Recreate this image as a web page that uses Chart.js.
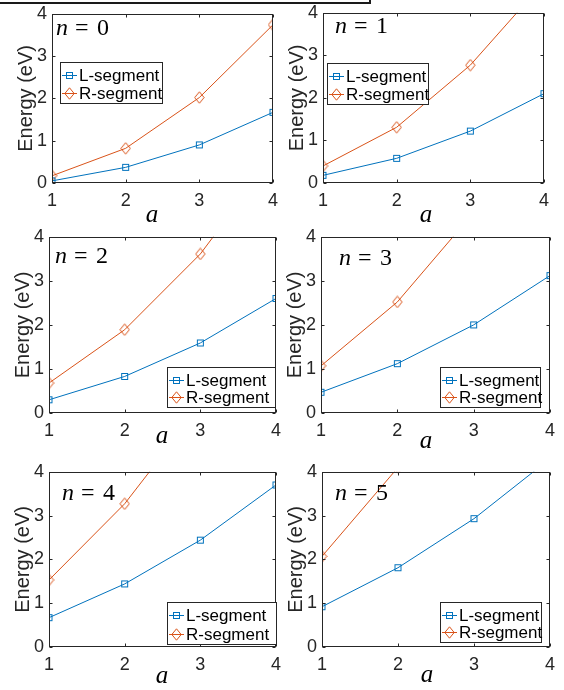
<!DOCTYPE html>
<html><head><meta charset="utf-8">
<script src="https://cdn.jsdelivr.net/npm/chart.js@4/dist/chart.umd.min.js"></script>
<style>
html,body{margin:0;padding:0;background:#fff;}
body{width:564px;height:690px;position:relative;overflow:hidden;}
canvas{position:absolute;}
#frag{position:absolute;left:-3px;top:-3px;width:372px;height:5px;border-right:2px solid #1a1a1a;border-bottom:2px solid #1a1a1a;}
</style></head><body>
<div id="frag"></div>
<script>
// ---- data ----
const aValues = [1, 2, 3, 4];
const xTickLabels = ['1', '2', '3', '4'];
const yTickValues = [0, 1, 2, 3, 4];
const yTickLabels = ['0', '1', '2', '3', '4'];
const nValues = ['0', '1', '2', '3', '4', '5'];
const seriesNames = ['L-segment', 'R-segment'];
const yTitle = 'Energy (eV)';
const xTitle = 'a';

const lSeg0 = [0.05, 0.37, 0.90, 1.67];
const rSeg0 = [0.17, 0.82, 2.02, 3.74];
const lSeg1 = [0.18, 0.58, 1.22, 2.10];
const rSeg1 = [0.40, 1.31, 2.77, 4.72];
const lSeg2 = [0.30, 0.83, 1.59, 2.60];
const rSeg2 = [0.68, 1.89, 3.61, 5.90];
const lSeg3 = [0.47, 1.12, 2.00, 3.12];
const rSeg3 = [1.07, 2.52, 4.55, 6.80];
const lSeg4 = [0.67, 1.44, 2.44, 3.70];
const rSeg4 = [1.53, 3.27, 5.50, 7.90];
const lSeg5 = [0.92, 1.81, 2.93, 4.30];
const rSeg5 = [2.07, 4.10, 6.40, 8.90];

const lSegs = [lSeg0, lSeg1, lSeg2, lSeg3, lSeg4, lSeg5];
const rSegs = [rSeg0, rSeg1, rSeg2, rSeg3, rSeg4, rSeg5];

// ---- layout (page coordinates) ----
const panels = [
  {L:52,  T:12,  R:273, B:183, leg:[60, 62, 103, 42],  nPos:[56, 35],   aPos:[152, 222]},
  {L:323, T:11,  R:544, B:183, leg:[327, 63, 102, 42], nPos:[335, 33],  aPos:[426, 222]},
  {L:49,  T:235, R:276, B:413, leg:[167, 367, 109, 41], nPos:[55, 263], aPos:[162, 443]},
  {L:321, T:235, R:550, B:413, leg:[440, 367, 101, 41], nPos:[339, 265], aPos:[426, 448]},
  {L:49,  T:470, R:276, B:647, leg:[167, 602, 110, 43], nPos:[62, 500], aPos:[162, 683]},
  {L:322, T:470, R:550, B:647, leg:[440, 602, 102, 41], nPos:[335, 500], aPos:[427, 682]}
];

const BLUE = '#0072BD', ORANGE = '#D95319', AXC = '#262626';

function makeSquare(color) {
  const c = document.createElement('canvas'); c.width = 9; c.height = 9;
  const g = c.getContext('2d'); g.strokeStyle = color; g.lineWidth = 1;
  g.strokeRect(1.5, 1.5, 6, 6); return c;
}
function makeDiamond(color) {
  const c = document.createElement('canvas'); c.width = 11; c.height = 13;
  const g = c.getContext('2d'); g.strokeStyle = color; g.lineWidth = 1;
  g.beginPath(); g.moveTo(5.5, 0.8); g.lineTo(10.2, 6.5); g.lineTo(5.5, 12.2); g.lineTo(0.8, 6.5); g.closePath(); g.stroke();
  return c;
}
const sqMark = makeSquare(BLUE), diMark = makeDiamond(ORANGE);

function makePlugin(p, i, ox, oy) {
  return {
    id: 'matlab' + i,
    afterDatasetsDraw(chart) {
      const {ctx, chartArea: ca, scales: {x, y}} = chart;
      ctx.save();
      // box
      ctx.strokeStyle = AXC; ctx.lineWidth = 1;
      const l = Math.round(ca.left) + 0.5, t = Math.round(ca.top) + 0.5,
            r = Math.round(ca.right) - 0.5, b = Math.round(ca.bottom) - 0.5;
      ctx.strokeRect(l, t, r - l, b - t);
      // inward ticks
      ctx.beginPath();
      aValues.forEach(v => {
        const px = Math.round(x.getPixelForValue(v)) + 0.5;
        ctx.moveTo(px, b); ctx.lineTo(px, b - 3);
        ctx.moveTo(px, t); ctx.lineTo(px, t + 3);
      });
      yTickValues.forEach(v => {
        const py = Math.round(y.getPixelForValue(v)) + 0.5;
        ctx.moveTo(l, py); ctx.lineTo(l + 3, py);
        ctx.moveTo(r, py); ctx.lineTo(r - 3, py);
      });
      ctx.stroke();
      // legend
      const [lx, ly, lw, lh] = p.leg;
      const bx = lx - ox, by = ly - oy;
      ctx.fillStyle = '#fff';
      ctx.fillRect(bx, by, lw, lh);
      ctx.strokeStyle = AXC; ctx.lineWidth = 1;
      ctx.strokeRect(bx + 0.5, by + 0.5, lw - 1, lh - 1);
      const rows = [by + 13, by + lh - 11];
      chart.data.datasets.forEach((ds, k) => {
        const cyy = rows[k];
        ctx.strokeStyle = ds.borderColor; ctx.lineWidth = 1;
        ctx.beginPath(); ctx.moveTo(bx + 2, cyy + 0.5); ctx.lineTo(bx + 17, cyy + 0.5); ctx.stroke();
        const img = ds.pointStyle;
        ctx.drawImage(img, Math.round(bx + 9.5 - img.width / 2), Math.round(cyy + 0.5 - img.height / 2));
        ctx.fillStyle = '#000';
        ctx.font = '17px "Liberation Sans", Arial, sans-serif';
        ctx.textBaseline = 'middle'; ctx.textAlign = 'left';
        ctx.fillText(ds.label, bx + 19, cyy + 1);
      });
      // n = k label
      const [nx, ny] = p.nPos;
      ctx.fillStyle = '#000'; ctx.textBaseline = 'alphabetic'; ctx.textAlign = 'left';
      ctx.font = 'italic 24px "Liberation Serif", "Times New Roman", serif';
      ctx.fillText('n', nx - ox, ny - oy);
      ctx.font = '24px "Liberation Serif", "Times New Roman", serif';
      ctx.fillText('=', nx - ox + 19, ny - oy);
      ctx.fillText(nValues[i], nx - ox + 41, ny - oy);
      // x title
      const [axx, ayy] = p.aPos;
      ctx.font = 'italic 25px "Liberation Serif", "Times New Roman", serif';
      ctx.textAlign = 'center';
      ctx.fillText(xTitle, axx - ox, ayy - oy);
      ctx.restore();
    }
  };
}

panels.forEach((p, i) => {
  const ox = p.L - 60, oy = p.T - 14;
  const w = (p.R - p.L) + 74, h = (p.B - p.T) + 64;
  const cv = document.createElement('canvas');
  cv.width = w; cv.height = h;
  cv.style.left = ox + 'px'; cv.style.top = oy + 'px';
  cv.style.width = w + 'px'; cv.style.height = h + 'px';
  document.body.appendChild(cv);
  const mk = (vals) => aValues.map((a, k) => ({x: a, y: vals[k]}));
  new Chart(cv, {
    type: 'line',
    data: {
      datasets: [
        {label: seriesNames[0], data: mk(lSegs[i]), borderColor: BLUE, borderWidth: 1,
         pointStyle: sqMark, pointRadius: 4, tension: 0, fill: false},
        {label: seriesNames[1], data: mk(rSegs[i]), borderColor: ORANGE, borderWidth: 1,
         pointStyle: diMark, pointRadius: 5, tension: 0, fill: false}
      ]
    },
    options: {
      responsive: false, animation: false, devicePixelRatio: 1, events: [],
      layout: {padding: {left: 0, top: 14, right: 14, bottom: 0}},
      plugins: {legend: {display: false}, tooltip: {enabled: false}},
      scales: {
        x: {
          type: 'linear', min: aValues[0], max: aValues[aValues.length - 1],
          grid: {display: false, drawTicks: false}, border: {display: false},
          ticks: {stepSize: 1, padding: 7, color: AXC, maxRotation: 0,
                  font: {family: '"Liberation Sans", Arial, sans-serif', size: 18},
                  callback: v => { const k = aValues.indexOf(v); return k >= 0 ? xTickLabels[k] : ''; }},
          afterFit: s => { s.height = 50; }
        },
        y: {
          type: 'linear', min: yTickValues[0], max: yTickValues[yTickValues.length - 1],
          grid: {display: false, drawTicks: false}, border: {display: false},
          ticks: {stepSize: 1, padding: 5, color: AXC,
                  font: {family: '"Liberation Sans", Arial, sans-serif', size: 18},
                  callback: v => { const k = yTickValues.indexOf(v); return k >= 0 ? yTickLabels[k] : ''; }},
          title: {display: true, text: yTitle, color: AXC, padding: {top: 22, bottom: 0},
                  font: {family: '"Liberation Sans", Arial, sans-serif', size: 20}},
          afterFit: s => { s.width = 60; }
        }
      }
    },
    plugins: [makePlugin(p, i, ox, oy)]
  });
});
</script>
</body></html>
